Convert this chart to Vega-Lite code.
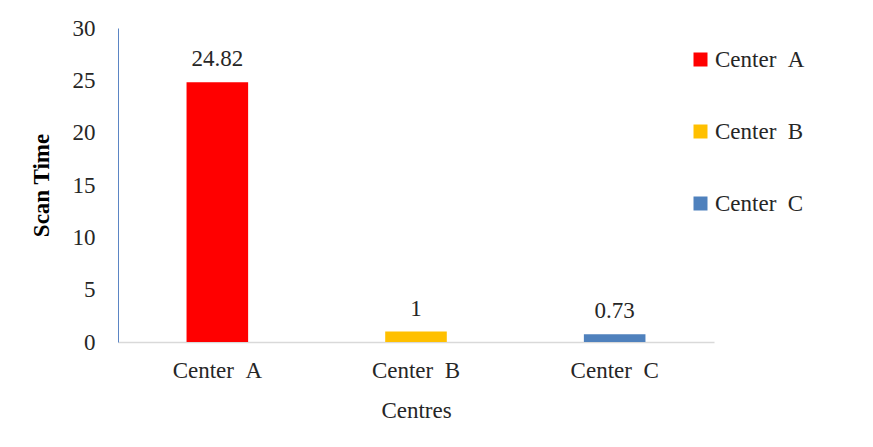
{
  "$schema": "https://vega.github.io/schema/vega-lite/v6.json",
  "width": 596,
  "height": 314,
  "autosize": {"type": "none"},
  "padding": {"left": 118, "top": 28, "right": 159, "bottom": 105},
  "background": "white",
  "config": {
    "view": {"stroke": null},
    "font": "Liberation Serif"
  },
  "data": {
    "values": [
      {"centre": "Center \u00a0A", "scan": 24.82, "label": "24.82"},
      {"centre": "Center \u00a0B", "scan": 1, "label": "1"},
      {"centre": "Center \u00a0C", "scan": 0.73, "label": "0.73"}
    ]
  },
  "encoding": {
    "x": {
      "field": "centre",
      "type": "nominal",
      "sort": null,
      "scale": {"paddingInner": 0, "paddingOuter": 0},
      "axis": {
        "title": "Centres",
        "titleFont": "Liberation Serif",
        "titleFontSize": 23,
        "titleFontWeight": "normal",
        "titleColor": "#262626",
        "titlePadding": 17,
        "labelFont": "Liberation Serif",
        "labelFontSize": 23,
        "labelColor": "#262626",
        "labelAngle": 0,
        "labelPadding": 17,
        "ticks": false,
        "domainColor": "#D9D9D9",
        "domainWidth": 1.5,
        "grid": false
      }
    },
    "y": {
      "field": "scan",
      "type": "quantitative",
      "scale": {"domain": [0, 30], "nice": false},
      "axis": {
        "title": "Scan Time",
        "titleFont": "Liberation Serif",
        "titleFontSize": 23,
        "titleFontWeight": "bold",
        "titleColor": "#000000",
        "titlePadding": 19,
        "labelFont": "Liberation Serif",
        "labelFontSize": 23,
        "labelColor": "#262626",
        "labelPadding": 23,
        "values": [0, 5, 10, 15, 20, 25, 30],
        "ticks": false,
        "domainColor": "#5B85C4",
        "domainWidth": 1,
        "grid": false
      }
    }
  },
  "layer": [
    {
      "mark": {"type": "bar", "width": {"band": 0.31}},
      "encoding": {
        "color": {
          "field": "centre",
          "type": "nominal",
          "sort": null,
          "scale": {"range": ["#FF0000", "#FFC000", "#4F81BD"]},
          "legend": {
            "title": null,
            "orient": "none",
            "legendX": 571,
            "legendY": 20,
            "symbolType": "square",
            "symbolSize": 196,
            "symbolStrokeWidth": 0,
            "labelFont": "Liberation Serif",
            "labelFontSize": 23,
            "labelColor": "#262626",
            "labelOffset": 3,
            "rowPadding": 48
          }
        }
      }
    },
    {
      "mark": {
        "type": "text",
        "baseline": "bottom",
        "dy": -11,
        "font": "Liberation Serif",
        "fontSize": 23,
        "color": "#262626"
      },
      "encoding": {
        "text": {"field": "label", "type": "nominal"}
      }
    }
  ]
}
